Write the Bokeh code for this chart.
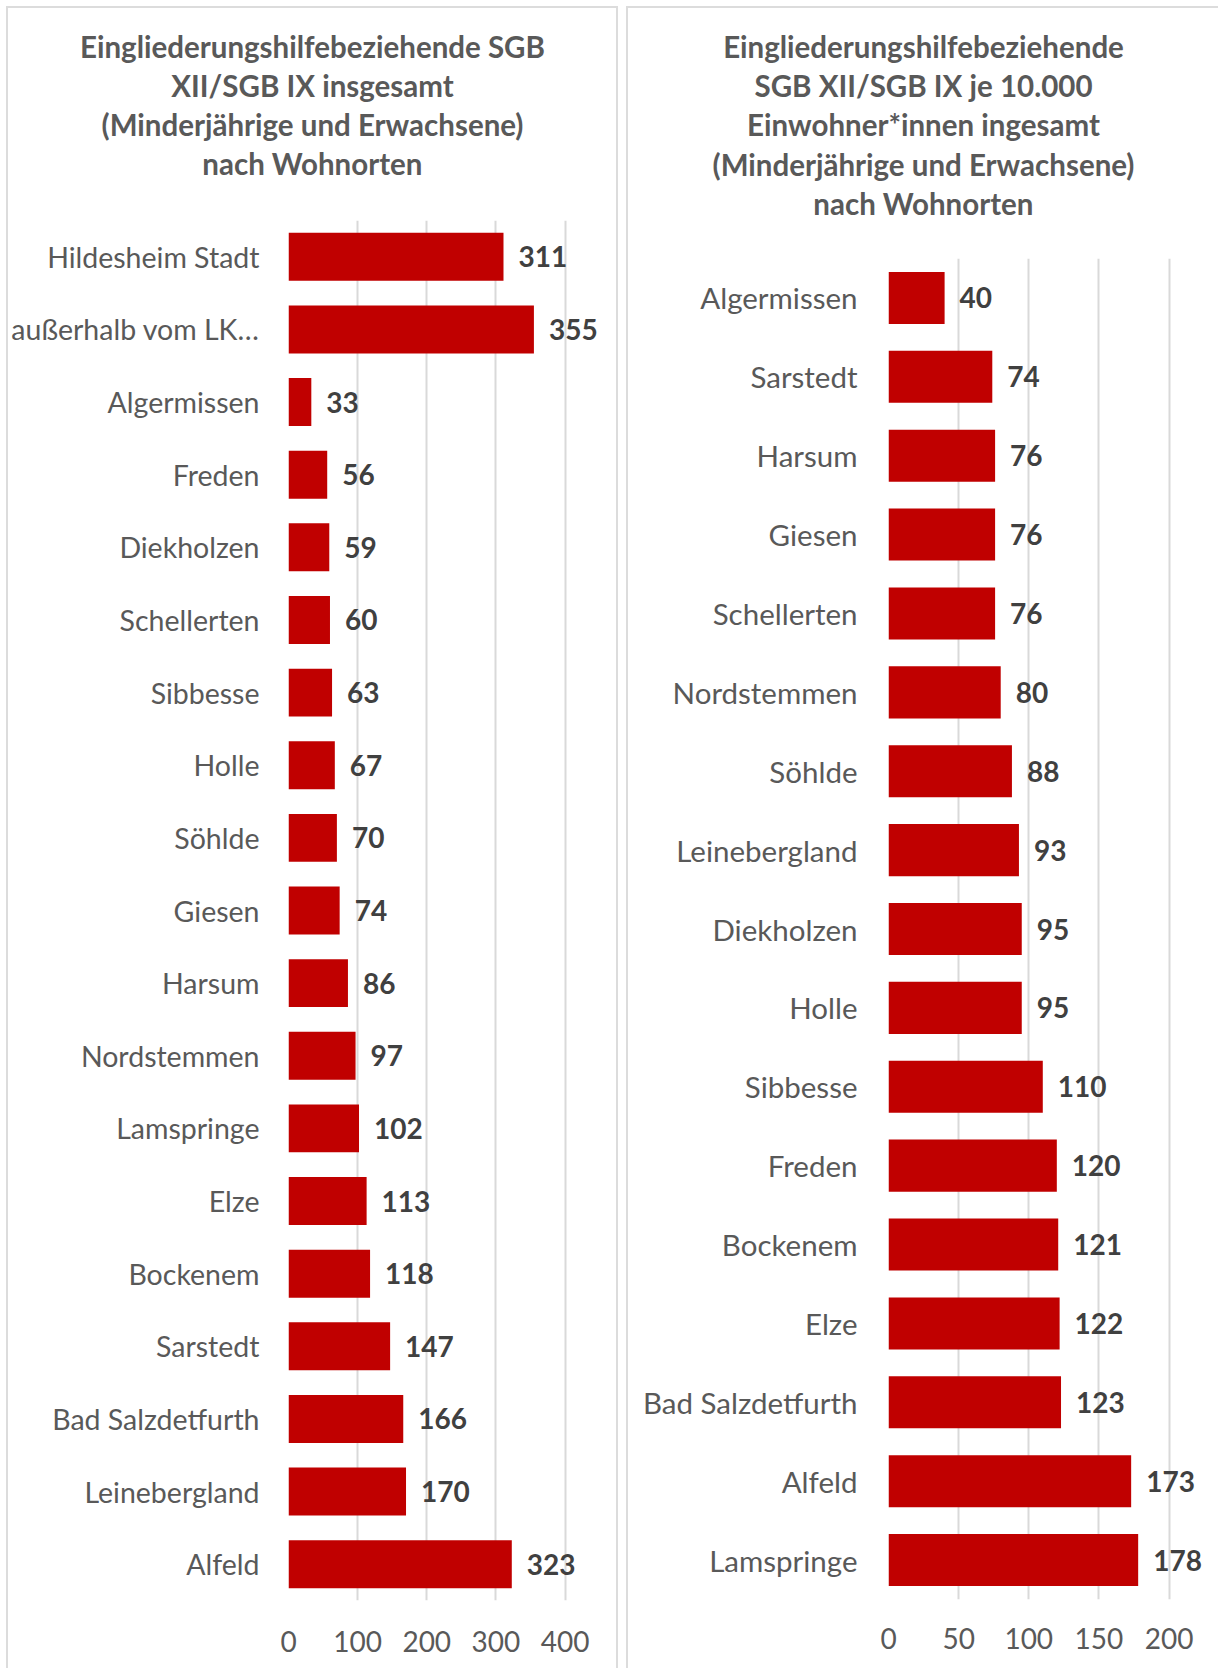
from bokeh.plotting import figure
from bokeh.layouts import row, column
from bokeh.models import FactorRange, Range1d, FixedTicker
from bokeh.embed import file_html
from bokeh.resources import INLINE
from bokeh.core.properties import value

left_title = ["Eingliederungshilfebeziehende SGB", "XII/SGB IX insgesamt",
              "(Minderjährige und Erwachsene)", "nach Wohnorten"]
left_places = ["Hildesheim Stadt", "außerhalb vom LK…", "Algermissen", "Freden", "Diekholzen",
               "Schellerten", "Sibbesse", "Holle", "Söhlde", "Giesen", "Harsum", "Nordstemmen",
               "Lamspringe", "Elze", "Bockenem", "Sarstedt", "Bad Salzdetfurth", "Leinebergland", "Alfeld"]
left_values = [311, 355, 33, 56, 59, 60, 63, 67, 70, 74, 86, 97, 102, 113, 118, 147, 166, 170, 323]
left_ticks = [0, 100, 200, 300, 400]

right_title = ["Eingliederungshilfebeziehende", "SGB XII/SGB IX je 10.000",
               "Einwohner*innen ingesamt", "(Minderjährige und Erwachsene)", "nach Wohnorten"]
right_places = ["Algermissen", "Sarstedt", "Harsum", "Giesen", "Schellerten", "Nordstemmen", "Söhlde",
                "Leinebergland", "Diekholzen", "Holle", "Sibbesse", "Freden", "Bockenem", "Elze",
                "Bad Salzdetfurth", "Alfeld", "Lamspringe"]
right_values = [40, 74, 76, 76, 76, 80, 88, 93, 95, 95, 110, 120, 121, 122, 123, 173, 178]
right_ticks = [0, 50, 100, 150, 200]

FONT = "Lato"
BAR = "#c00000"
GRID = "#d9d9d9"
BORDER = "2px solid #dcdcdc"


def make_title(lines, width, height, cx, first_y, step):
    t = figure(width=width, height=height, x_range=Range1d(0, width), y_range=Range1d(height, 0),
               x_axis_location=None, y_axis_location=None, title=None,
               output_backend="svg", toolbar_location=None,
               min_border_left=0, min_border_right=0, min_border_top=0, min_border_bottom=0)
    t.frame_align = False
    t.outline_line_color = None
    t.xgrid.grid_line_color = None
    t.ygrid.grid_line_color = None
    t.text(x=[cx] * len(lines), y=[first_y + i * step for i in range(len(lines))], text=lines,
           text_align="center", text_baseline="middle",
           text_font=value(FONT), text_font_style="bold", text_font_size="29.5px",
           text_color="#595959")
    return t


def make_chart(places, values, ticks, xmax, width, height, mbl, mbr, mbb, tick_standoff,
               label_standoff, label_size):
    p = figure(width=width, height=height,
               y_range=FactorRange(factors=list(reversed(places)), range_padding=0),
               x_range=Range1d(0, xmax), title=None,
               output_backend="svg", toolbar_location=None,
               min_border_left=mbl, min_border_right=mbr,
               min_border_top=0, min_border_bottom=mbb)
    p.frame_align = False
    p.outline_line_color = None

    p.hbar(y=places, right=values, left=0, height=0.66, fill_color=BAR, line_color=None)
    p.text(x=values, y=places, text=[str(v) for v in values], x_offset=15,
           text_baseline="middle", text_align="left",
           text_font=value(FONT), text_font_style="bold", text_font_size="28px",
           text_color="#404040")

    p.xaxis.ticker = FixedTicker(ticks=ticks)
    p.xaxis.axis_line_color = None
    p.xaxis.major_tick_line_color = None
    p.xaxis.minor_tick_line_color = None
    p.xaxis.major_label_standoff = tick_standoff
    p.xaxis.major_label_text_font = FONT
    p.xaxis.major_label_text_font_size = "28px"
    p.xaxis.major_label_text_color = "#595959"

    p.yaxis.axis_line_color = None
    p.yaxis.major_tick_line_color = None
    p.yaxis.major_label_standoff = label_standoff
    p.yaxis.major_label_text_font = FONT
    p.yaxis.major_label_text_font_size = label_size
    p.yaxis.major_label_text_color = "#595959"

    p.xgrid.ticker = FixedTicker(ticks=ticks)
    p.xgrid.grid_line_color = GRID
    p.xgrid.grid_line_width = 2
    p.ygrid.grid_line_color = None
    return p


t1 = make_title(left_title, 608, 212, 304, 38, 39)
c1 = make_chart(left_places, left_values, left_ticks, 460, 608, 1448, 276, 10, 68, 24,
                23, "28.5px")
t2 = make_title(right_title, 590, 250, 295, 38, 39.2)
c2 = make_chart(right_places, right_values, right_ticks, 226, 590, 1410, 260, 13, 69, 22,
                25, "29.5px")

col1 = column(t1, c1, spacing=0, styles={"border-left": BORDER, "border-top": BORDER,
                                         "border-right": BORDER})
col2 = column(t2, c2, spacing=0, styles={"border-left": BORDER, "border-top": BORDER})
layout = row(col1, col2, spacing=8, margin=(6, 0, 0, 6))
open("out.html", "w").write(file_html(layout, INLINE))
